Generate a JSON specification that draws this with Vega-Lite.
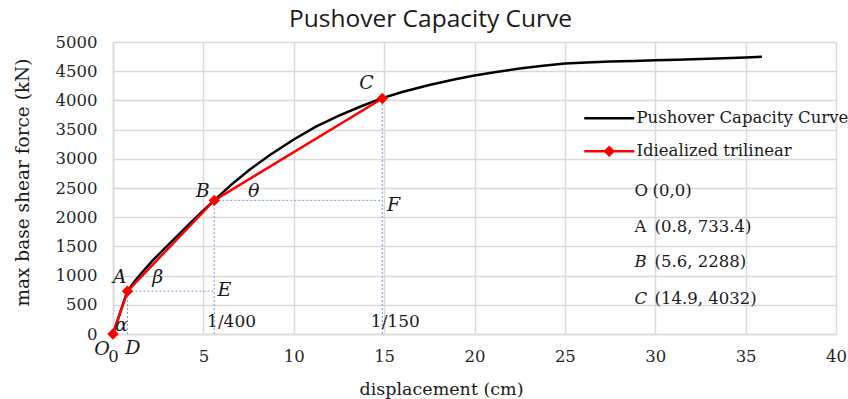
{
  "$schema": "https://vega.github.io/schema/vega-lite/v6.json",
  "width": 723,
  "height": 292,
  "autosize": {"type": "none"},
  "padding": {"left": 113, "top": 42, "right": 12, "bottom": 65},
  "background": "white",
  "title": {
    "text": "Pushover Capacity Curve",
    "font": "Open Sans",
    "fontSize": 24.5,
    "fontWeight": "normal",
    "color": "#1a1a1a",
    "anchor": "middle",
    "frame": "group",
    "dx": -44,
    "offset": 1.5
  },
  "config": {
    "view": {"stroke": null},
    "axis": {
      "gridColor": "#d9d9d9",
      "gridWidth": 1.5,
      "domainColor": "#d9d9d9",
      "domainWidth": 1.5,
      "ticks": false,
      "tickSize": 0,
      "labelFlush": false,
      "labelFont": "DejaVu Serif",
      "labelFontSize": 16.5,
      "labelColor": "#262626",
      "titleFont": "DejaVu Serif",
      "titleFontWeight": "normal",
      "titleColor": "#1a1a1a"
    }
  },
  "datasets": {
    "curve": [
      {"x": 0, "y": 0}, {"x": 0.4, "y": 370}, {"x": 0.8, "y": 733}, {"x": 1.2, "y": 905},
      {"x": 1.6, "y": 1050}, {"x": 2.2, "y": 1260}, {"x": 3, "y": 1510}, {"x": 3.6, "y": 1695},
      {"x": 4.2, "y": 1875}, {"x": 4.9, "y": 2085}, {"x": 5.6, "y": 2288}, {"x": 6.5, "y": 2545},
      {"x": 7.5, "y": 2800}, {"x": 8.7, "y": 3070}, {"x": 10, "y": 3330}, {"x": 11.2, "y": 3545},
      {"x": 12.5, "y": 3740}, {"x": 13.7, "y": 3895}, {"x": 14.9, "y": 4040}, {"x": 16, "y": 4145},
      {"x": 17.5, "y": 4265}, {"x": 19, "y": 4365}, {"x": 20, "y": 4425}, {"x": 21.2, "y": 4487},
      {"x": 22.5, "y": 4545}, {"x": 23.8, "y": 4595}, {"x": 25, "y": 4630}, {"x": 26.2, "y": 4650},
      {"x": 27.5, "y": 4664}, {"x": 28.8, "y": 4675}, {"x": 30, "y": 4686}, {"x": 31.2, "y": 4697},
      {"x": 32.5, "y": 4709}, {"x": 33.8, "y": 4722}, {"x": 35, "y": 4735}, {"x": 35.9, "y": 4748}
    ],
    "trilinear": [
      {"x": 0, "y": 0, "series": "Idiealized trilinear"},
      {"x": 0.8, "y": 733.4, "series": "Idiealized trilinear"},
      {"x": 5.6, "y": 2288, "series": "Idiealized trilinear"},
      {"x": 14.9, "y": 4032, "series": "Idiealized trilinear"}
    ],
    "guides": [
      {"x": 0.8, "y": 0, "x2": 0.8, "y2": 733.4},
      {"x": 0.8, "y": 733.4, "x2": 5.6, "y2": 733.4},
      {"x": 5.6, "y": 0, "x2": 5.6, "y2": 2288},
      {"x": 5.6, "y": 2288, "x2": 14.9, "y2": 2288},
      {"x": 14.9, "y": 0, "x2": 14.9, "y2": 4032}
    ],
    "letters": [
      {"t": "C", "x": 14.03, "y": 4303},
      {"t": "B", "x": 4.96, "y": 2454},
      {"t": "θ", "x": 7.78, "y": 2454},
      {"t": "F", "x": 15.52, "y": 2214},
      {"t": "A", "x": 0.36, "y": 981},
      {"t": "β", "x": 2.48, "y": 981},
      {"t": "E", "x": 6.17, "y": 753},
      {"t": "α", "x": 0.46, "y": 159},
      {"t": "O", "x": -0.6, "y": -250},
      {"t": "D", "x": 1.1, "y": -235}
    ],
    "drifts": [
      {"t": "1/400", "x": 6.56, "y": 199},
      {"t": "1/150", "x": 15.62, "y": 199}
    ],
    "points": [
      {"k": "O", "v": "(0,0)", "x": 28.85, "vx": 29.85, "y": 2454},
      {"k": "A", "v": "(0.8, 733.4)", "x": 28.85, "vx": 29.96, "y": 1827},
      {"k": "B", "v": "(5.6, 2288)", "x": 28.85, "vx": 29.96, "y": 1228},
      {"k": "C", "v": "(14.9, 4032)", "x": 28.85, "vx": 29.96, "y": 599}
    ]
  },
  "encoding": {
    "x": {
      "field": "x",
      "type": "quantitative",
      "scale": {"domain": [0, 40], "nice": false, "zero": false},
      "axis": {
        "values": [0, 5, 10, 15, 20, 25, 30, 35, 40],
        "labelPadding": 14,
        "title": "displacement (cm)",
        "titleFontSize": 17.5,
        "titleX": 328,
        "titleY": 55,
        "titleAlign": "center",
        "titleBaseline": "middle"
      }
    },
    "y": {
      "field": "y",
      "type": "quantitative",
      "scale": {"domain": [0, 5000], "nice": false},
      "axis": {
        "values": [0, 500, 1000, 1500, 2000, 2500, 3000, 3500, 4000, 4500, 5000],
        "format": "d",
        "labelPadding": 16,
        "title": "max base shear force (kN)",
        "titleFontSize": 18.5,
        "titleX": -91,
        "titleY": 140,
        "titleAngle": -90,
        "titleAlign": "center",
        "titleBaseline": "middle"
      }
    }
  },
  "layer": [
    {
      "data": {"name": "guides"},
      "mark": {"type": "rule", "color": "#7f9ed6", "strokeWidth": 1, "strokeDash": [2, 2]},
      "encoding": {
        "x2": {"field": "x2"},
        "y2": {"field": "y2"}
      }
    },
    {
      "data": {"name": "curve"},
      "mark": {"type": "line", "color": "#000000", "strokeWidth": 2.5}
    },
    {
      "data": {"name": "trilinear"},
      "mark": {"type": "line", "color": "#ff0000", "strokeWidth": 2.5}
    },
    {
      "data": {"name": "trilinear"},
      "mark": {"type": "point", "shape": "diamond", "filled": true, "opacity": 1, "size": 130, "color": "#ff0000"}
    },
    {
      "description": "Key only: draws no marks, carries the series legend (line, and line with diamond).",
      "data": {"name": "trilinear"},
      "transform": [{"filter": "datum.x < 0"}],
      "mark": {"type": "point", "filled": true, "opacity": 1},
      "encoding": {
        "color": {
          "field": "series",
          "type": "nominal",
          "scale": {
            "domain": ["Pushover Capacity Curve", "Idiealized trilinear"],
            "range": ["#000000", "#ff0000"]
          },
          "legend": {
            "title": null,
            "orient": "none",
            "legendX": 488,
            "legendY": 68,
            "padding": 0,
            "symbolSize": 100,
            "symbolOpacity": 1,
            "labelFont": "DejaVu Serif",
            "labelFontSize": 16.5,
            "labelColor": "#1a1a1a",
            "labelOffset": 19,
            "labelLimit": 0,
            "rowPadding": 15
          }
        },
        "shape": {
          "field": "series",
          "type": "nominal",
          "scale": {
            "domain": ["Pushover Capacity Curve", "Idiealized trilinear"],
            "range": [
              "M-5,-0.25H5V0.25H-5Z",
              "M-5,-0.25H5V0.25H-5ZM0,-1.15L1.15,0L0,1.15L-1.15,0Z"
            ]
          },
          "legend": {
            "title": null,
            "orient": "none",
            "legendX": 488,
            "legendY": 68,
            "padding": 0,
            "symbolSize": 100,
            "symbolOpacity": 1,
            "labelFont": "DejaVu Serif",
            "labelFontSize": 16.5,
            "labelColor": "#1a1a1a",
            "labelOffset": 19,
            "labelLimit": 0,
            "rowPadding": 15
          }
        }
      }
    },
    {
      "data": {"name": "letters"},
      "mark": {"type": "text", "font": "DejaVu Serif", "fontStyle": "italic", "fontSize": 19, "color": "#1a1a1a", "align": "center", "baseline": "middle"},
      "encoding": {"text": {"field": "t"}}
    },
    {
      "data": {"name": "drifts"},
      "mark": {"type": "text", "font": "DejaVu Serif", "fontSize": 17, "color": "#1a1a1a", "align": "center", "baseline": "middle"},
      "encoding": {"text": {"field": "t"}}
    },
    {
      "data": {"name": "points"},
      "transform": [{"filter": "datum.k === 'O' || datum.k === 'A'"}],
      "mark": {"type": "text", "font": "DejaVu Serif", "fontSize": 16.5, "color": "#1a1a1a", "align": "left", "baseline": "middle"},
      "encoding": {"text": {"field": "k"}}
    },
    {
      "data": {"name": "points"},
      "transform": [{"filter": "datum.k === 'B' || datum.k === 'C'"}],
      "mark": {"type": "text", "font": "DejaVu Serif", "fontStyle": "italic", "fontSize": 16.5, "color": "#1a1a1a", "align": "left", "baseline": "middle"},
      "encoding": {"text": {"field": "k"}}
    },
    {
      "data": {"name": "points"},
      "mark": {"type": "text", "font": "DejaVu Serif", "fontSize": 16.5, "color": "#1a1a1a", "align": "left", "baseline": "middle"},
      "encoding": {"x": {"field": "vx", "type": "quantitative"}, "text": {"field": "v"}}
    }
  ]
}
